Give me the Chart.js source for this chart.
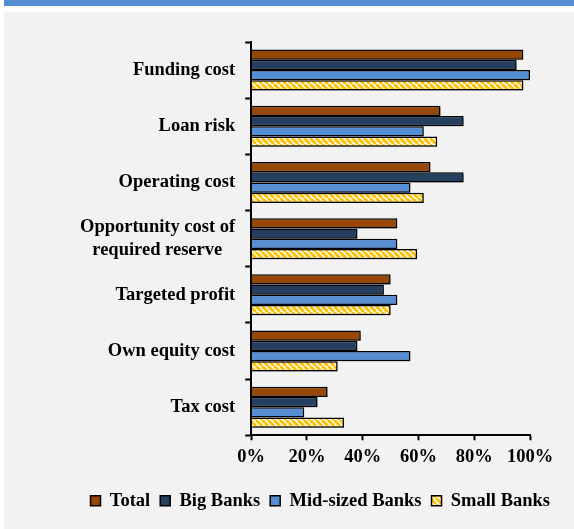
<!DOCTYPE html>
<html>
<head>
<meta charset="utf-8">
<script src="https://cdn.jsdelivr.net/npm/chart.js@4"></script>
<style>
    body { margin: 0; background: #ffffff; }
    #band { position: absolute; left: 4px; top: 0; width: 570px; height: 6px; background: #558ed5; }
    #panel { position: absolute; left: 4px; top: 12px; width: 570px; height: 517px; background: #f2f2f2; }
</style>
</head>
<body>
<div id="band"></div>
<div id="panel"><canvas id="chart" width="570" height="517"></canvas></div>
<script>
// Chart data (percent of banks)
const categories = [
    'Funding cost',
    'Loan risk',
    'Operating cost',
    ['Opportunity cost of', 'required reserve\u00a0\u00a0\u2009'],
    'Targeted profit',
    'Own equity cost',
    'Tax cost'
];
const totalValues = [97.6, 67.9, 64.3, 52.4, 50.0, 39.3, 27.4];
const bigBankValues = [95.2, 76.2, 76.2, 38.1, 47.6, 38.1, 23.8];
const midBankValues = [100, 61.9, 57.1, 52.4, 52.4, 57.1, 19.0];
const smallBankValues = [97.6, 66.7, 61.9, 59.5, 50.0, 31.0, 33.3];
const xTicks = [0, 20, 40, 60, 80, 100];

// yellow / white diagonal stripes for small banks
function stripePattern() {
    const c = document.createElement('canvas');
    c.width = 6;
    c.height = 6;
    const p = c.getContext('2d');
    p.fillStyle = '#ffffff';
    p.fillRect(0, 0, 6, 6);
    p.strokeStyle = '#ffc000';
    p.lineWidth = 3;
    p.beginPath();
    for (let k = -6; k <= 12; k += 6) {
        p.moveTo(k, 0);
        p.lineTo(k + 6, 6);
    }
    p.stroke();
    return p.createPattern(c, 'repeat');
}

const barShadow = {
    id: 'barShadow',
    beforeDatasetsDraw(chart) {
        const ctx = chart.ctx;
        ctx.save();
        ctx.shadowColor = 'rgba(0,0,0,0.35)';
        ctx.shadowOffsetX = 1.5;
        ctx.shadowOffsetY = 1.5;
        ctx.shadowBlur = 2;
    },
    afterDatasetsDraw(chart) {
        chart.ctx.restore();
    }
};

// pull the legend's right edge in a little
const legendShift = {
    id: 'legendShift',
    afterLayout(chart) {
        chart.legend.right = 556;
    }
};

Chart.defaults.font.family = '"Liberation Serif", "Times New Roman", serif';
Chart.defaults.font.weight = 'bold';
Chart.defaults.font.size = 18.5;
Chart.defaults.color = '#000000';

const bar = (label, data, color) => ({
    label: label,
    data: data,
    backgroundColor: color,
    borderColor: '#000000',
    borderWidth: 1.5,
    categoryPercentage: 0.73,
    barPercentage: 1
});

new Chart(document.getElementById('chart'), {
    type: 'bar',
    data: {
        labels: categories,
        datasets: [
            bar('Total', totalValues, '#974706'),
            bar('Big Banks', bigBankValues, '#243f60'),
            bar('Mid-sized Banks', midBankValues, '#558ed5'),
            bar('Small Banks', smallBankValues, stripePattern())
        ]
    },
    plugins: [barShadow, legendShift],
    options: {
        indexAxis: 'y',
        responsive: false,
        animation: false,
        layout: { padding: { left: 0, right: 4, top: 30, bottom: 9 } },
        plugins: {
            legend: {
                position: 'bottom',
                align: 'end',
                labels: {
                    boxWidth: 10,
                    boxHeight: 10,
                    padding: 10
                }
            },
            tooltip: { enabled: false }
        },
        scales: {
            x: {
                min: 0,
                max: 100,
                afterBuildTicks: (axis) => { axis.ticks = xTicks.map(v => ({ value: v })); },
                afterFit: (axis) => {
                    axis.height += 7;
                    axis.paddingRight = 44;
                },
                ticks: { callback: (val) => val + '%', padding: 6 },
                grid: { drawOnChartArea: false, tickLength: 5, tickWidth: 2, color: '#000000' },
                border: { color: '#000000', width: 2 }
            },
            y: {
                z: 1,
                afterFit: (axis) => { axis.width += 66; },
                ticks: { padding: 10, font: { lineHeight: 1.25 } },
                grid: { drawOnChartArea: false, tickLength: 6, tickWidth: 2, color: '#000000' },
                border: { color: '#000000', width: 2 }
            }
        }
    }
});
</script>
</body>
</html>
